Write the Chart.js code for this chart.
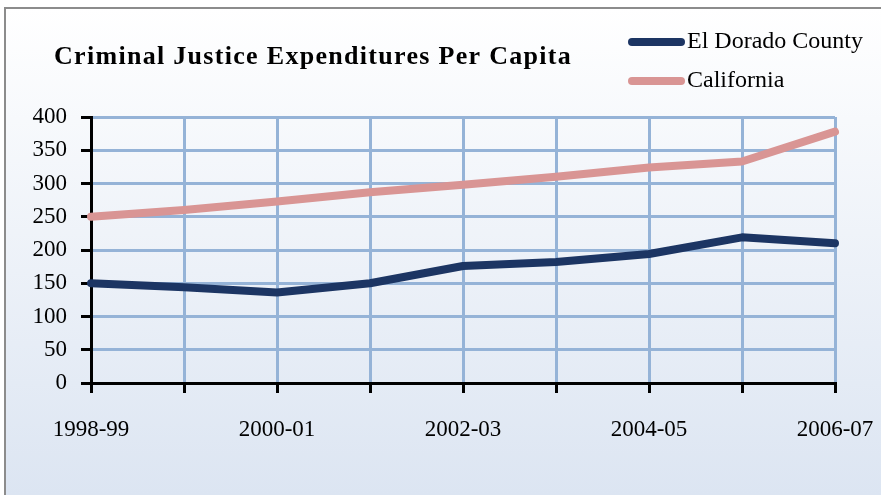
<!DOCTYPE html>
<html>
<head>
<meta charset="utf-8">
<script src="https://cdn.jsdelivr.net/npm/chart.js@4"></script>
<style>
  html, body { margin: 0; padding: 0; background: #fff; }
  canvas { display: block; }
</style>
</head>
<body>
<canvas id="myChart" width="881" height="495"></canvas>
<script>
const categories = ["1998-99", "1999-00", "2000-01", "2001-02", "2002-03", "2003-04", "2004-05", "2005-06", "2006-07"];
const elDorado = [150, 144, 136, 150, 176, 182, 194, 219, 210];
const california = [250, 260, 273, 287, 298, 310, 324, 333, 378];
const seriesNames = ["El Dorado County", "California"];
const titleText = "Criminal Justice Expenditures Per Capita";

const serif = "'Liberation Serif', 'DejaVu Serif', serif";
const gridBlue = "#95b3d7";

// background gradient + frame
const backgroundPlugin = {
  id: "bg",
  beforeDraw(chart) {
    const c = chart.ctx;
    const g = c.createLinearGradient(0, 8, 0, 495);
    g.addColorStop(0, "#ffffff");
    g.addColorStop(1, "#dce5f2");
    c.save();
    c.fillStyle = g;
    c.fillRect(5, 8, 876, 487);
    c.strokeStyle = "#8c8c8c";
    c.lineWidth = 2;
    c.beginPath();
    c.moveTo(5, 495);
    c.lineTo(5, 8);
    c.lineTo(881, 8);
    c.stroke();
    c.restore();
  },
};

// title and legend drawn in the top band
const headerPlugin = {
  id: "header",
  afterDraw(chart) {
    const c = chart.ctx;
    c.save();
    c.fillStyle = "#000";
    c.textBaseline = "middle";
    c.font = "bold 26px " + serif;
    c.letterSpacing = "1.3px";
    c.fillText(titleText, 54, 57);
    c.letterSpacing = "0px";

    c.font = "24px " + serif;
    chart.data.datasets.forEach((ds, i) => {
      const y = 42 + i * 39;
      c.strokeStyle = ds.borderColor;
      c.lineWidth = 8;
      c.lineCap = "round";
      c.beginPath();
      c.moveTo(632, y);
      c.lineTo(681, y);
      c.stroke();
      c.fillText(ds.label, 687, y);
    });
    c.restore();
  },
};

const ctx = document.getElementById("myChart");

const myChart = new Chart(ctx, {
  type: "line",
  data: {
    labels: categories,
    datasets: [
      {
        label: seriesNames[0],
        data: elDorado,
        borderColor: "#1c3563",
        borderWidth: 8,
      },
      {
        label: seriesNames[1],
        data: california,
        borderColor: "#d99594",
        borderWidth: 8,
      },
    ],
  },
  options: {
    responsive: false,
    animation: false,
    layout: {
      padding: { top: 117, right: 46, left: 0, bottom: 0 },
    },
    elements: {
      line: { tension: 0, borderCapStyle: "round", borderJoinStyle: "round" },
      point: { radius: 0, hoverRadius: 0 },
    },
    datasets: {
      line: { clip: false },
    },
    scales: {
      x: {
        offset: false,
        afterFit: (s) => {
          s.height = 112;
          s.paddingLeft = 0;
          s.paddingRight = 0;
        },
        grid: {
          color: (c) => (c.index === 0 ? "rgba(0,0,0,0)" : gridBlue),
          lineWidth: 3,
          drawTicks: true,
          tickLength: 10,
          tickColor: "#000",
          tickWidth: 3,
        },
        border: { color: "#000", width: 3 },
        ticks: {
          autoSkip: false,
          maxRotation: 0,
          padding: 23,
          color: "#000",
          font: { family: serif, size: 23 },
          callback: (v, i) => (i % 2 === 0 ? categories[i] : ""),
        },
      },
      y: {
        min: 0,
        max: 400,
        afterFit: (s) => { s.width = 91; },
        grid: {
          color: (c) => (c.tick && c.tick.value === 0 ? "rgba(0,0,0,0)" : gridBlue),
          lineWidth: 3,
          drawTicks: true,
          tickLength: 10,
          tickColor: "#000",
          tickWidth: 3,
        },
        border: { color: "#000", width: 3 },
        ticks: {
          stepSize: 50,
          padding: 14,
          color: "#000",
          font: { family: serif, size: 23 },
        },
      },
    },
    plugins: {
      legend: { display: false },
      title: { display: false },
      tooltip: { enabled: false },
    },
  },
  plugins: [backgroundPlugin, headerPlugin],
});
</script>
</body>
</html>
